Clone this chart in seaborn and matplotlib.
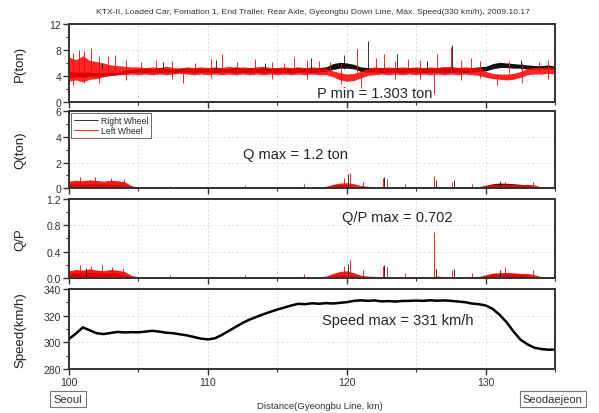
import numpy as np
import pandas as pd
import seaborn as sns
import matplotlib.pyplot as plt
from matplotlib.lines import Line2D
from matplotlib.ticker import MultipleLocator

sns.set_style("white")
plt.rcParams['font.family'] = ['Liberation Sans', 'DejaVu Sans']

## data, sampled every 0.5 km from 100 to 135 km

km_start = 100
km_step = 0.5

# P (ton), right wheel (black) band
p_right_lo = [3.7, 3.9, 3.8, 4.0, 3.9, 4.0, 4.1, 4.2, 4.4, 4.5,
              4.6, 4.5, 4.6, 4.5, 4.6, 4.5, 4.6, 4.6, 4.5, 4.6,
              4.6, 4.5, 4.6, 4.6, 4.5, 4.6, 4.5, 4.6, 4.5, 4.6,
              4.5, 4.6, 4.5, 4.6, 4.6, 4.5, 4.6, 4.7, 5.0, 5.2,
              5.2, 5.1, 4.7, 4.6, 4.6, 4.5, 4.6, 4.6, 4.5, 4.6,
              4.6, 4.5, 4.6, 4.6, 4.5, 4.6, 4.6, 4.5, 4.6, 4.7,
              4.8, 5.1, 5.3, 5.3, 5.2, 5.2, 5.1, 5.1, 5.1, 5.1,
              5.0]
p_right_hi = [4.7, 4.6, 4.6, 4.6, 4.5, 4.5, 4.6, 4.5, 4.9, 5.0,
              5.1, 5.2, 5.1, 5.3, 5.2, 5.1, 5.2, 5.3, 5.1, 5.2,
              5.2, 5.3, 5.2, 5.1, 5.4, 5.2, 5.3, 5.2, 5.3, 5.2,
              5.2, 5.3, 5.2, 5.3, 5.2, 5.2, 5.3, 5.4, 5.9, 6.1,
              6.0, 5.8, 5.4, 5.3, 5.2, 5.3, 5.2, 5.3, 5.2, 5.3,
              5.2, 5.3, 5.2, 5.3, 5.4, 5.2, 5.3, 5.2, 5.3, 5.4,
              5.5, 5.9, 6.1, 6.0, 5.9, 5.8, 5.7, 5.6, 5.6, 5.7,
              5.5]
# P (ton), left wheel (red) band
p_left_lo = [3.2, 3.4, 3.1, 3.5, 3.6, 3.9, 4.1, 4.2, 4.2, 4.3,
             4.2, 4.3, 4.2, 4.3, 4.2, 4.3, 4.4, 4.3, 4.2, 4.3,
             4.2, 4.3, 4.2, 4.3, 4.2, 4.3, 4.2, 4.3, 4.2, 4.3,
             4.2, 4.3, 4.2, 4.3, 4.2, 4.3, 4.2, 4.2, 3.9, 3.4,
             3.2, 3.3, 3.7, 4.1, 4.2, 4.3, 4.2, 4.3, 4.2, 4.3,
             4.2, 4.3, 4.2, 4.3, 4.2, 4.3, 4.2, 4.3, 4.2, 4.1,
             3.8, 3.6, 3.5, 3.4, 3.5, 3.8, 4.2, 4.3, 4.3, 4.4,
             4.3]
p_left_hi = [6.9, 6.5, 7.1, 6.4, 6.2, 6.0, 5.7, 5.6, 5.5, 5.4,
             5.4, 5.3, 5.4, 5.3, 5.5, 5.3, 5.2, 5.4, 5.3, 5.4,
             5.3, 5.4, 5.3, 5.5, 5.3, 5.4, 5.3, 5.4, 5.5, 5.3,
             5.3, 5.4, 5.3, 5.4, 5.3, 5.4, 5.3, 5.2, 4.8, 4.5,
             4.3, 4.4, 4.7, 5.2, 5.4, 5.3, 5.4, 5.3, 5.4, 5.3,
             5.4, 5.3, 5.4, 5.3, 5.4, 5.5, 5.3, 5.4, 5.3, 5.3,
             4.7, 4.4, 4.3, 4.3, 4.4, 4.7, 5.2, 5.3, 5.3, 5.4,
             5.3]

# Q (ton) upper envelope
q_right = [0.35, 0.40, 0.30, 0.38, 0.32, 0.36, 0.30, 0.28, 0.20, 0.10,
           0.06, 0.05, 0.07, 0.05, 0.06, 0.05, 0.06, 0.07, 0.05, 0.06,
           0.05, 0.06, 0.05, 0.07, 0.06, 0.05, 0.06, 0.05, 0.07, 0.06,
           0.06, 0.05, 0.07, 0.06, 0.05, 0.06, 0.07, 0.08, 0.20, 0.30,
           0.25, 0.15, 0.08, 0.06, 0.07, 0.06, 0.05, 0.06, 0.07, 0.05,
           0.06, 0.05, 0.07, 0.06, 0.05, 0.06, 0.05, 0.06, 0.07, 0.08,
           0.20, 0.35, 0.40, 0.38, 0.35, 0.30, 0.22, 0.08, 0.06, 0.05,
           0.05]
q_left = [0.55, 0.62, 0.58, 0.65, 0.60, 0.55, 0.62, 0.58, 0.50, 0.20,
          0.08, 0.07, 0.09, 0.08, 0.10, 0.08, 0.07, 0.09, 0.08, 0.10,
          0.08, 0.09, 0.10, 0.08, 0.12, 0.09, 0.10, 0.08, 0.09, 0.10,
          0.09, 0.10, 0.08, 0.12, 0.10, 0.09, 0.08, 0.15, 0.30, 0.40,
          0.42, 0.35, 0.20, 0.15, 0.12, 0.10, 0.12, 0.10, 0.11, 0.09,
          0.10, 0.12, 0.09, 0.15, 0.10, 0.11, 0.09, 0.12, 0.10, 0.12,
          0.25, 0.32, 0.30, 0.33, 0.30, 0.28, 0.30, 0.25, 0.10, 0.08,
          0.07]

# Q/P upper envelope
qp_right = [0.06, 0.08, 0.07, 0.09, 0.08, 0.07, 0.08, 0.07, 0.05, 0.02,
            0.012, 0.010, 0.014, 0.011, 0.012, 0.010, 0.013, 0.012, 0.011, 0.012,
            0.011, 0.012, 0.010, 0.013, 0.012, 0.011, 0.012, 0.010, 0.013, 0.012,
            0.012, 0.011, 0.013, 0.012, 0.010, 0.012, 0.013, 0.015, 0.04, 0.05,
            0.045, 0.03, 0.015, 0.012, 0.013, 0.012, 0.011, 0.012, 0.013, 0.011,
            0.012, 0.011, 0.013, 0.012, 0.011, 0.012, 0.011, 0.012, 0.013, 0.014,
            0.04, 0.065, 0.07, 0.068, 0.065, 0.055, 0.04, 0.015, 0.012, 0.011,
            0.010]
qp_left = [0.11, 0.13, 0.12, 0.14, 0.12, 0.11, 0.13, 0.12, 0.10, 0.04,
           0.018, 0.016, 0.020, 0.018, 0.022, 0.017, 0.016, 0.020, 0.018, 0.021,
           0.018, 0.020, 0.022, 0.018, 0.025, 0.020, 0.022, 0.018, 0.020, 0.022,
           0.020, 0.022, 0.018, 0.025, 0.022, 0.020, 0.018, 0.030, 0.07, 0.10,
           0.11, 0.08, 0.045, 0.030, 0.025, 0.022, 0.025, 0.022, 0.024, 0.020,
           0.022, 0.025, 0.020, 0.030, 0.022, 0.024, 0.020, 0.025, 0.022, 0.025,
           0.05, 0.075, 0.08, 0.085, 0.08, 0.07, 0.07, 0.05, 0.022, 0.018,
           0.015]

# speed (km/h)
speed = [302.5, 306.5, 311.2, 309.0, 306.8, 306.2, 307.0, 307.8, 307.4, 307.6,
         307.5, 308.0, 308.6, 308.0, 307.2, 306.8, 306.0, 305.2, 304.0, 302.8,
         302.2, 303.0, 305.5, 308.5, 311.5, 314.5, 317.0, 319.0, 321.0, 322.8,
         324.5, 326.0, 327.5, 328.8, 328.5, 329.2, 328.8, 329.3, 329.0, 329.5,
         330.0, 331.0, 331.4, 331.0, 331.3, 330.6, 330.8, 330.5, 330.9, 331.0,
         331.2, 331.0, 331.4, 331.1, 331.3, 331.0, 330.5, 330.0, 329.0, 328.5,
         327.5, 325.0, 320.5, 315.0, 308.0, 302.0, 298.5, 296.0, 295.0, 294.5,
         294.6]

# single spikes (km, low end, high end)
p_left_spike_km = [100.3, 100.7, 101.1, 101.6, 102.2, 102.8, 103.3, 104.1, 105.2, 106.3,
                   107.4, 108.2, 109.1, 110.2, 111.0, 112.1, 113.4, 114.6, 115.5, 116.2,
                   117.1, 118.0, 118.8, 119.6, 120.7, 121.0, 122.1, 122.7, 123.5, 124.4,
                   125.3, 126.3, 126.5, 127.5, 128.2, 128.9, 129.6, 130.8, 131.7, 132.6,
                   133.8, 134.5]
p_left_spike_lo = [2.6, 4.8, 2.9, 4.8, 3.0, 4.8, 4.8, 3.4, 4.8, 4.8,
                   3.6, 3.0, 4.8, 3.7, 4.8, 4.8, 4.8, 3.6, 4.8, 4.8,
                   3.5, 4.8, 4.8, 2.8, 4.5, 2.2, 4.8, 4.8, 3.5, 4.8,
                   3.6, 1.303, 4.8, 4.8, 3.4, 4.8, 3.7, 2.6, 4.5, 3.0,
                   4.8, 3.6]
p_left_spike_hi = [7.6, 8.0, 7.8, 8.3, 7.1, 7.0, 7.2, 6.5, 6.2, 6.4,
                   6.3, 4.5, 6.0, 6.6, 7.3, 6.1, 6.6, 6.2, 6.0, 6.9,
                   6.4, 6.3, 6.2, 5.8, 8.1, 4.5, 6.7, 7.4, 6.3, 6.6,
                   6.4, 4.5, 7.3, 8.4, 6.5, 6.8, 6.3, 4.2, 6.3, 6.0,
                   6.2, 6.4]
p_right_spike_km = [102.4, 106.8, 110.6, 114.1, 117.4, 119.8, 121.5, 123.6, 125.8, 127.6, 132.5]
p_right_spike_hi = [6.0, 6.2, 6.4, 6.0, 6.8, 7.2, 9.4, 7.4, 6.3, 8.8, 6.5]

q_left_spike_km = [100.8, 101.9, 103.0, 104.0, 107.3, 112.7, 116.9, 119.8, 120.2,
                   121.2, 122.6, 122.9, 124.2, 126.3, 127.6, 129.0, 131.4, 133.4]
q_left_spike_hi = [0.85, 0.9, 0.8, 0.75, 0.2, 0.25, 0.3, 0.8, 1.2,
                   0.5, 0.8, 0.7, 0.3, 0.95, 0.5, 0.3, 0.5, 0.5]
q_right_spike_km = [120.1, 122.7, 126.4, 127.7, 131.0]
q_right_spike_hi = [1.1, 0.9, 0.6, 0.6, 0.55]

qp_left_spike_km = [100.8, 101.6, 102.4, 103.1, 103.9, 107.3, 112.7, 116.9, 119.8, 120.2,
                    121.2, 122.6, 122.9, 124.2, 126.3, 127.6, 129.0, 131.4, 133.4]
qp_left_spike_hi = [0.2, 0.19, 0.2, 0.17, 0.15, 0.04, 0.05, 0.06, 0.18, 0.27,
                    0.12, 0.19, 0.17, 0.07, 0.702, 0.12, 0.07, 0.17, 0.12]
qp_right_spike_km = [101.2, 120.1, 122.7, 126.4, 127.7, 131.0]
qp_right_spike_hi = [0.15, 0.22, 0.2, 0.14, 0.14, 0.12]

x_ticks = [100, 110, 120, 130]
title = ("KTX-II, Loaded Car, Fomation 1, End Trailer, Rear Axle, "
         "Gyeongbu Down Line, Max. Speed(330 km/h), 2009.10.17")

km = km_start + km_step * np.arange(len(speed))
df = pd.DataFrame({'km': km, 'speed': speed})

RED = '#ff0000'
BLK = '#111111'
SPINE = '#333333'


def style_axis(ax, ylim, major, ylabel, fmt, last=False):
    ax.set_xlim(100, 135)
    ax.set_ylim(*ylim)
    ax.xaxis.set_major_locator(MultipleLocator(10))
    ax.xaxis.set_minor_locator(MultipleLocator(5))
    ax.yaxis.set_major_locator(MultipleLocator(major))
    ax.yaxis.set_minor_locator(MultipleLocator(major / 2))
    ax.yaxis.set_major_formatter(fmt)
    ax.grid(True, which='both', axis='x', ls=(0, (3, 3)), color='#cdd3e3', lw=0.5)
    ax.grid(True, which='major', axis='y', ls=(0, (3, 3)), color='#cdd3e3', lw=0.5)
    ax.set_axisbelow(True)
    for s in ax.spines.values():
        s.set_visible(True)
        s.set_color(SPINE)
        s.set_linewidth(1.4)
    ax.tick_params(which='major', direction='out', length=4, width=1, color=SPINE,
                   labelsize=7.5, labelcolor='#333333', bottom=True, left=True, pad=1.5)
    ax.tick_params(which='minor', direction='out', length=2.5, width=0.8, color=SPINE,
                   bottom=True, left=True)
    if not last:
        ax.tick_params(labelbottom=False)
    ax.set_xlabel('')
    ax.set_ylabel(ylabel, fontsize=9.5, color='#222222')
    ax.yaxis.set_label_coords(-0.088, 0.5)


fig = plt.figure(figsize=(5.99, 4.14), dpi=100)
left, width = 0.115, 0.812
boxes = [(0.751, 0.940), (0.543, 0.729), (0.326, 0.517), (0.106, 0.300)]
ax1, ax2, ax3, ax4 = [fig.add_axes([left, b, width, t - b]) for b, t in boxes]

# P
ax1.fill_between(km, p_right_lo, p_right_hi, color=BLK, lw=0)
ax1.vlines(p_right_spike_km, 5.0, p_right_spike_hi, color=BLK, lw=0.6)
ax1.fill_between(km, p_left_lo, p_left_hi, color=RED, lw=0, alpha=0.85)
ax1.vlines(p_left_spike_km, p_left_spike_lo, p_left_spike_hi, color=RED, lw=0.6)
style_axis(ax1, (0, 12), 4, 'P(ton)', '{x:.0f}')
ax1.text(122, 0.25, 'P min = 1.303 ton', ha='center', va='bottom', fontsize=10.5)

# Q
ax2.fill_between(km, 0, q_right, color=BLK, lw=0)
ax2.vlines(q_right_spike_km, 0, q_right_spike_hi, color=BLK, lw=0.6)
ax2.fill_between(km, 0, q_left, color=RED, lw=0, alpha=0.9)
ax2.vlines(q_left_spike_km, 0, q_left_spike_hi, color=RED, lw=0.6)
style_axis(ax2, (0, 6), 2, 'Q(ton)', '{x:.0f}')
ax2.text(116.3, 2.65, 'Q max = 1.2 ton', ha='center', va='center', fontsize=10.5)
handles = [Line2D([], [], color=BLK, lw=0.6), Line2D([], [], color=RED, lw=0.6)]
leg = ax2.legend(handles, ['Right Wheel', 'Left Wheel'], loc='upper left',
                 fontsize=6.2, frameon=True, fancybox=False, edgecolor='#222222',
                 handlelength=2.8, handletextpad=0.4, borderpad=0.3,
                 labelspacing=0.15, borderaxespad=0.25)
leg.get_frame().set_linewidth(0.6)

# Q/P
ax3.fill_between(km, 0, qp_right, color=BLK, lw=0)
ax3.vlines(qp_right_spike_km, 0, qp_right_spike_hi, color=BLK, lw=0.6)
ax3.fill_between(km, 0, qp_left, color=RED, lw=0, alpha=0.9)
ax3.vlines(qp_left_spike_km, 0, qp_left_spike_hi, color=RED, lw=0.6)
style_axis(ax3, (0, 1.2), 0.4, 'Q/P', '{x:.1f}')
ax3.text(123.6, 0.93, 'Q/P max = 0.702', ha='center', va='center', fontsize=10.5)

# speed
sns.lineplot(data=df, x='km', y='speed', color='black', lw=1.8, ax=ax4)
style_axis(ax4, (280, 340), 20, 'Speed(km/h)', '{x:.0f}', last=True)
ax4.set_xticks(x_ticks)
ax4.text(123.7, 316.5, 'Speed max = 331 km/h', ha='center', va='center', fontsize=10.5)

fig.text(0.523, 0.969, title, ha='center', va='center', fontsize=6.1, color='#333333')
fig.text(0.534, 0.017, 'Distance(Gyeongbu Line, km)', ha='center', va='center',
         fontsize=6.8, color='#333333')
box = dict(boxstyle='square,pad=0.3', fc='white', ec='#777777', lw=0.8)
fig.text(0.1135, 0.034, 'Seoul', ha='center', va='center', fontsize=8,
         color='#333333', bbox=box)
fig.text(0.923, 0.034, 'Seodaejeon', ha='center', va='center', fontsize=8,
         color='#333333', bbox=box)

fig.savefig('out.png', dpi=100)
